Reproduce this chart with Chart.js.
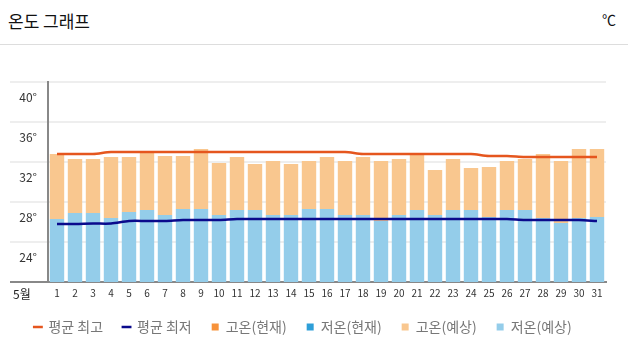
<!DOCTYPE html>
<html>
<head>
<meta charset="utf-8">
<script src="https://cdn.jsdelivr.net/npm/chart.js@4"></script>
<style>
    body { margin: 0; background: #fff; font-family: "Noto Sans CJK KR", sans-serif; }
    #wrap { position: relative; width: 628px; height: 348px; overflow: hidden; }
    #title { position: absolute; left: 8px; top: 8px; font-size: 17px; color: #111; }
    #unit { position: absolute; right: 12px; top: 9px; font-size: 14px; color: #111; }
    #sep { position: absolute; left: 0; top: 44px; width: 628px; height: 1px; background: #ddd; }
    #month { position: absolute; left: 13px; top: 285px; font-size: 12px; color: #222; }
    #box { position: absolute; left: 0; top: 45px; width: 628px; height: 299px; }
</style>
</head>
<body>
<div id="wrap">
    <div id="title">온도 그래프</div>
    <div id="unit">℃</div>
    <div id="sep"></div>
    <div id="box"><canvas id="chart"></canvas></div>
    <div id="month">5월</div>
</div>
<script>
// 5월 일별
const days = ['1','2','3','4','5','6','7','8','9','10','11','12','13','14','15','16',
    '17','18','19','20','21','22','23','24','25','26','27','28','29','30','31'];

// 예상 고온 / 저온
const highForecast = [34.3, 33.8, 33.8, 34.0, 34.0, 34.6, 34.1, 34.1, 34.8, 33.4, 34.0, 33.3, 33.6, 33.3, 33.6, 34.0,
    33.6, 34.0, 33.6, 33.8, 34.3, 32.7, 33.8, 32.9, 33.0, 33.6, 33.8, 34.3, 33.6, 34.8, 34.8];
const lowForecast = [27.8, 28.4, 28.4, 27.9, 28.5, 28.7, 28.2, 28.8, 28.8, 28.2, 28.7, 28.7, 28.2, 28.2, 28.8, 28.8,
    28.2, 28.2, 27.6, 28.2, 28.7, 28.2, 28.7, 28.7, 28.0, 28.7, 28.7, 27.9, 27.4, 27.9, 28.0];

// 평균 최고 / 최저
const avgHigh = [34.3, 34.3, 34.3, 34.5, 34.5, 34.5, 34.5, 34.5, 34.5, 34.5, 34.5, 34.5, 34.5, 34.5, 34.5, 34.5,
    34.5, 34.3, 34.3, 34.3, 34.3, 34.3, 34.3, 34.3, 34.1, 34.1, 34.0, 34.0, 34.0, 34.0, 34.0];
const avgLow = [27.3, 27.3, 27.35, 27.35, 27.6, 27.6, 27.6, 27.7, 27.7, 27.7, 27.8, 27.8, 27.8, 27.8, 27.8, 27.8,
    27.8, 27.8, 27.8, 27.8, 27.8, 27.8, 27.8, 27.8, 27.8, 27.8, 27.7, 27.7, 27.7, 27.7, 27.6];

// 현재 값 (없음)
const highNow = [];
const lowNow = [];

const yTicks = [21.5, 25.5, 29.5, 33.5, 37.5, 41.5];

const ctx = document.getElementById('chart');

new Chart(ctx, {
    type: 'bar',
    data: {
        labels: days,
        datasets: [
            {
                type: 'line', label: '평균 최고', data: avgHigh,
                borderColor: '#e5561e', backgroundColor: '#e5561e', borderWidth: 2.5,
                pointRadius: 0, tension: 0.3, pointStyle: 'line'
            },
            {
                type: 'line', label: '평균 최저', data: avgLow,
                borderColor: '#0a0a8c', backgroundColor: '#0a0a8c', borderWidth: 2.5,
                pointRadius: 0, tension: 0.3, pointStyle: 'line'
            },
            { label: '고온(현재)', data: highNow, backgroundColor: '#f7923a', pointStyle: 'rect' },
            { label: '저온(현재)', data: lowNow, backgroundColor: '#2e9fd8', pointStyle: 'rect' },
            {
                label: '고온(예상)', data: days.map((d, i) => [lowForecast[i], highForecast[i]]),
                backgroundColor: '#f9c78f', pointStyle: 'rect'
            },
            { label: '저온(예상)', data: lowForecast, backgroundColor: '#94cdea', pointStyle: 'rect' }
        ]
    },
    options: {
        responsive: true,
        maintainAspectRatio: false,
        animation: false,
        datasets: {
            bar: { grouped: false, barPercentage: 0.8, categoryPercentage: 1 }
        },
        layout: { padding: { top: 37, right: 22, left: 0, bottom: 0 } },
        plugins: {
            tooltip: { enabled: false },
            legend: {
                position: 'bottom',
                labels: {
                    usePointStyle: true,
                    boxWidth: 7,
                    boxHeight: 7,
                    padding: 20,
                    color: '#777',
                    font: { family: 'Noto Sans CJK KR', size: 14 }
                }
            }
        },
        scales: {
            x: {
                grid: { display: false, drawTicks: false },
                border: { display: true, color: '#888', width: 2 },
                afterFit: (scale) => { scale.height = 18; },
                ticks: {
                    color: '#333', padding: 5, maxRotation: 0, autoSkip: false,
                    font: { family: 'Noto Sans CJK KR', size: 10 }
                }
            },
            y: {
                min: 21.5,
                max: 41.5,
                afterBuildTicks: (scale) => { scale.ticks = yTicks.map(v => ({ value: v })); },
                afterFit: (scale) => { scale.width = 48; },
                border: { display: true, color: '#888', width: 2 },
                grid: {
                    tickLength: 38,
                    color: (c) => c.tick && c.tick.value === 21.5 ? '#888' : '#eeeeee',
                    tickColor: (c) => c.tick && c.tick.value === 21.5 ? '#888' : '#eeeeee',
                    lineWidth: 2
                },
                ticks: {
                    padding: -27,
                    labelOffset: 15,
                    color: '#333',
                    font: { family: 'Noto Sans CJK KR', size: 12 },
                    callback: (v) => v === 21.5 ? '' : (v - 1.5) + '°'
                }
            }
        }
    }
});
</script>
</body>
</html>
